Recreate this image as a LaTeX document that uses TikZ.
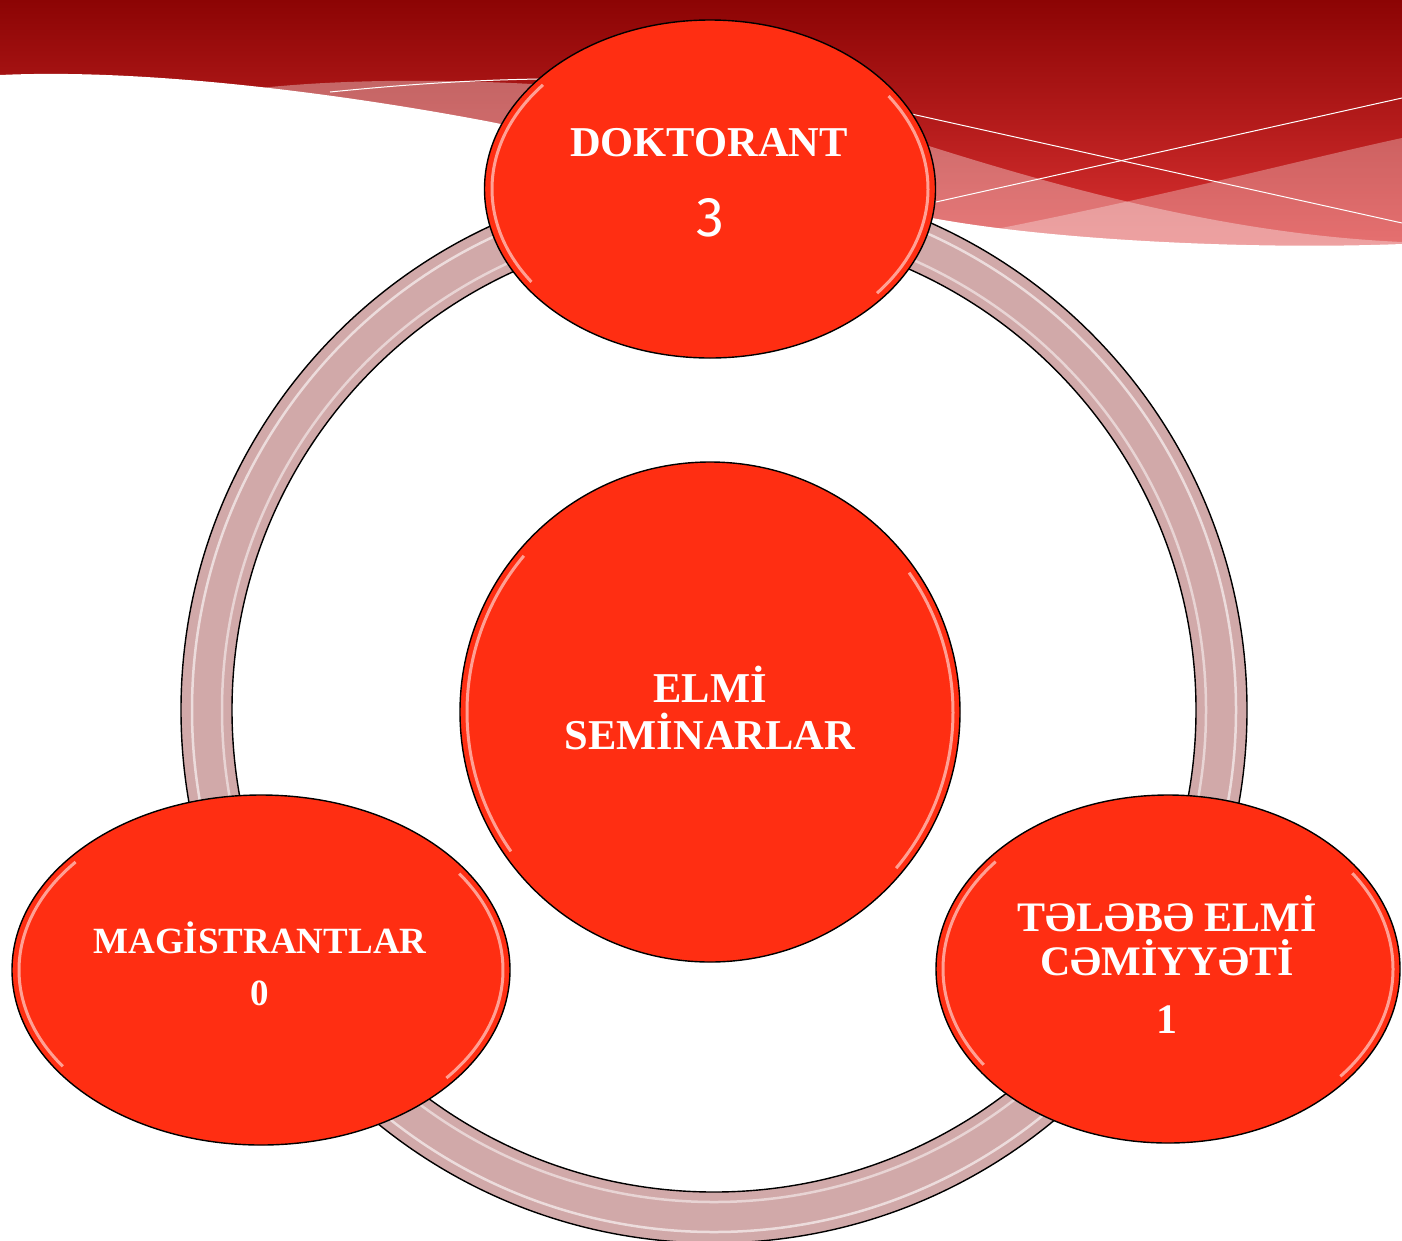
\documentclass[tikz,border=0pt]{standalone}
\usepackage{fontspec}
\setmainfont{Liberation Serif}
\newfontfamily\numfont{Fira Sans}
\usetikzlibrary{shapes.geometric}
\definecolor{bubblec}{HTML}{FF2E12}
\definecolor{ringc}{HTML}{D1A9A9}
\definecolor{bandtop}{HTML}{8C0404}
\definecolor{bandbot}{HTML}{E03535}
\newcommand{\glossy}[3]{%
  \draw[gloss] (#1.center) ++(140:#2 and #3) arc[start angle=140, end angle=215, x radius=#2, y radius=#3];
  \draw[gloss] (#1.center) ++(-40:#2 and #3) arc[start angle=-40, end angle=35, x radius=#2, y radius=#3];
}
\begin{document}
\begin{tikzpicture}[x=1pt,y=-1pt,
  bubble/.style={ellipse, draw=black, line width=1.4pt, fill=bubblec, inner sep=0pt},
  lbl/.style={text=white, font=\bfseries\fontsize{42.5}{47}\selectfont, align=center, inner sep=0pt},
  gloss/.style={white, line width=3pt, opacity=0.55},
  wline/.style={white, line width=1pt}]
\useasboundingbox (0,0) rectangle (1402,1240);
\fill[white] (0,0) rectangle (1402,1240);
% banner
\shade[top color=bandtop, bottom color=bandbot] (0,0) rectangle (1402,260);
\fill[white, opacity=0.35] (260,88) .. controls (450,68) and (750,90) .. (932,147) .. controls (1100,200) and (1250,235) .. (1402,242) -- (1402,300) -- (260,300) -- cycle;
\fill[white, opacity=0.3] (960,236) .. controls (1150,200) and (1300,160) .. (1402,138) -- (1402,300) -- (960,300) -- cycle;
\draw[wline] (330,92) .. controls (420,83) and (480,80) .. (540,79);
\draw[wline] (880,107) -- (1402,223);
\draw[wline] (900,210) -- (1402,98);
\fill[white] (0,75) .. controls (150,68) and (350,95) .. (491,122) .. controls (700,165) and (800,195) .. (932,218) .. controls (1050,240) and (1250,250) .. (1402,244) -- (1402,1240) -- (0,1240) -- cycle;
% ring
\path[fill=ringc, even odd rule, draw=black, line width=1.4pt] (714,710) circle[radius=533] (714,710) circle[radius=482];
\draw[white, line width=2.5pt, opacity=0.6] (714,710) circle[radius=522];
\draw[white, line width=2.5pt, opacity=0.5] (714,710) circle[radius=492];
% bubbles
\node[bubble, minimum width=451pt, minimum height=338pt] (doc) at (710,189) {};
\node[bubble, minimum width=500pt, minimum height=500pt] (sem) at (710,712) {};
\node[bubble, minimum width=498pt, minimum height=350pt] (mag) at (261,970) {};
\node[bubble, minimum width=464pt, minimum height=348pt] (tel) at (1168,969) {};
\glossy{doc}{218pt}{162pt}
\glossy{sem}{243pt}{243pt}
\glossy{mag}{242pt}{168pt}
\glossy{tel}{225pt}{167pt}
% labels
\node[lbl] (doclbl) at (709,143) {DOKTORANT};
\node[text=white, font=\numfont\fontsize{56}{56}\selectfont, inner sep=0pt] (docnum) at (710,218) {3};
\node[lbl] (semlbl) at (710,708) {ELMİ\\SEMİNARLAR};
\node[lbl, font=\bfseries\fontsize{37}{40}\selectfont] (maglbl) at (260,938) {MAGİSTRANTLAR};
\node[lbl, font=\bfseries\fontsize{37}{40}\selectfont] (magnum) at (260,993) {0};
\node[lbl, font=\bfseries\fontsize{42}{44}\selectfont] (tellbl) at (1167,936) {TƏLƏBƏ ELMİ\\CƏMİYYƏTİ};
\node[lbl, font=\bfseries\fontsize{42}{44}\selectfont] (telnum) at (1167,1020) {1};
\end{tikzpicture}
\end{document}
